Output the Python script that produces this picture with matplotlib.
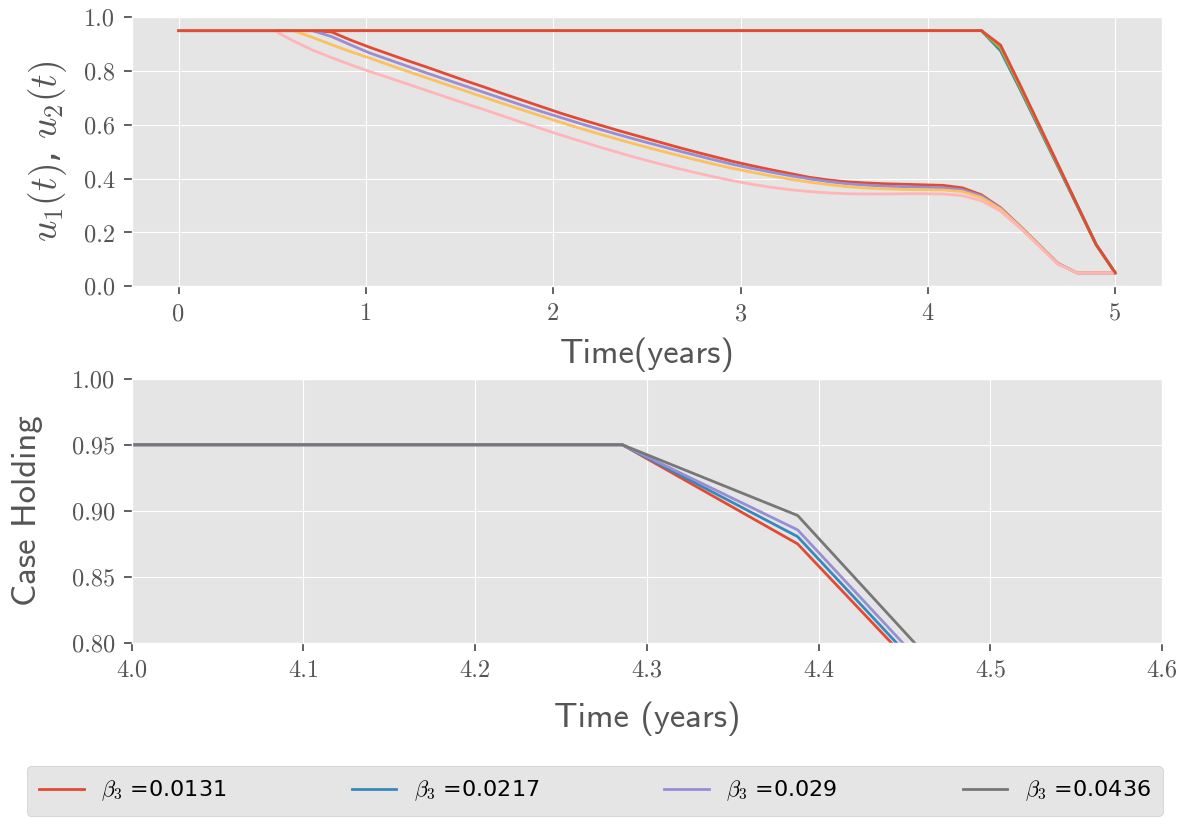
import matplotlib
matplotlib.use('Agg')
import matplotlib.pyplot as plt
import numpy as np

plt.style.use('ggplot')
plt.rcParams['mathtext.fontset'] = 'cm'

# time grid used by the solver (50 points over 5 years)
t = np.linspace(0, 5, 50)

betas = ["0.0131", "0.0217", "0.029", "0.0436"]

# u1(t) for each beta_3
u1_b1 = [0.95, 0.95, 0.95, 0.95, 0.95, 0.95, 0.95, 0.95, 0.945, 0.915,
         0.888, 0.863, 0.838, 0.814, 0.789, 0.764, 0.740, 0.715, 0.691, 0.667,
         0.643, 0.621, 0.600, 0.579, 0.559, 0.539, 0.519, 0.500, 0.482, 0.464,
         0.448, 0.433, 0.419, 0.405, 0.395, 0.388, 0.384, 0.381, 0.379, 0.377,
         0.375, 0.366, 0.340, 0.292, 0.225, 0.155, 0.085, 0.05, 0.05, 0.05]
u1_b2 = [0.95, 0.95, 0.95, 0.95, 0.95, 0.95, 0.95, 0.95, 0.928, 0.897,
         0.867, 0.842, 0.817, 0.792, 0.768, 0.744, 0.720, 0.696, 0.672, 0.649,
         0.627, 0.605, 0.584, 0.564, 0.544, 0.525, 0.506, 0.488, 0.470, 0.453,
         0.438, 0.424, 0.411, 0.399, 0.389, 0.381, 0.376, 0.372, 0.370, 0.368,
         0.366, 0.359, 0.336, 0.290, 0.224, 0.155, 0.085, 0.05, 0.05, 0.05]
u1_b3 = [0.95, 0.95, 0.95, 0.95, 0.95, 0.95, 0.95, 0.925, 0.898, 0.872,
         0.848, 0.823, 0.798, 0.774, 0.750, 0.726, 0.702, 0.678, 0.655, 0.632,
         0.609, 0.587, 0.566, 0.546, 0.526, 0.507, 0.489, 0.471, 0.454, 0.438,
         0.424, 0.410, 0.398, 0.387, 0.378, 0.370, 0.365, 0.362, 0.360, 0.359,
         0.358, 0.352, 0.330, 0.287, 0.222, 0.154, 0.084, 0.05, 0.05, 0.05]
u1_b4 = [0.95, 0.95, 0.95, 0.95, 0.95, 0.95, 0.912, 0.878, 0.850, 0.823,
         0.798, 0.775, 0.751, 0.727, 0.703, 0.679, 0.656, 0.632, 0.608, 0.585,
         0.562, 0.540, 0.518, 0.497, 0.477, 0.458, 0.440, 0.423, 0.407, 0.392,
         0.379, 0.368, 0.359, 0.352, 0.347, 0.344, 0.343, 0.343, 0.344, 0.344,
         0.343, 0.337, 0.318, 0.279, 0.218, 0.150, 0.082, 0.05, 0.05, 0.05]

# u2(t) (case holding) for each beta_3
u2_b1 = [0.95] * 43 + [0.875, 0.735, 0.590, 0.445, 0.300, 0.155, 0.05]
u2_b2 = [0.95] * 43 + [0.8805, 0.738, 0.593, 0.448, 0.302, 0.155, 0.05]
u2_b3 = [0.95] * 43 + [0.8856, 0.743, 0.597, 0.450, 0.303, 0.155, 0.05]
u2_b4 = [0.95] * 43 + [0.8965, 0.752, 0.603, 0.454, 0.304, 0.155, 0.05]

u1_all = [u1_b1, u1_b2, u1_b3, u1_b4]
u2_all = [u2_b1, u2_b2, u2_b3, u2_b4]

fig = plt.figure(figsize=(11.87, 8.18), dpi=100)
ax1 = fig.add_axes([0.111, 0.650, 0.868, 0.329])
ax2 = fig.add_axes([0.111, 0.214, 0.868, 0.323])

# top: both controls over the whole horizon
for u1, u2 in zip(u1_all, u2_all):
    ax1.plot(t, u1, lw=2)
    ax1.plot(t, u2, lw=2)
ax1.set_ylim(0, 1.0)
ax1.set_xlabel('Time(years)', family='cmss10', fontsize=25, color='#555555', labelpad=9)
ax1.set_ylabel(r'$u_1(t)$, $u_2(t)$', fontsize=27, color='#555555', labelpad=11)
ax1.yaxis.set_major_formatter(matplotlib.ticker.FormatStrFormatter('%.1f'))

# bottom: zoom on case holding around the switch
lines = []
for u2, b in zip(u2_all, betas):
    ln, = ax2.plot(t, u2, lw=2, label=r'$\beta_3$ =' + b)
    lines.append(ln)
ax2.set_xlim(4.0, 4.6)
ax2.set_ylim(0.8, 1.0)
ax2.set_yticks([0.80, 0.85, 0.90, 0.95, 1.00])
ax2.yaxis.set_major_formatter(matplotlib.ticker.FormatStrFormatter('%.2f'))
ax2.xaxis.set_major_formatter(matplotlib.ticker.FormatStrFormatter('%.1f'))
ax2.set_xlabel('Time (years)', family='cmss10', fontsize=25, color='#555555', labelpad=14)
ax2.set_ylabel('Case Holding', family='cmss10', fontsize=25, color='#555555', labelpad=21)

for ax in (ax1, ax2):
    ax.tick_params(labelsize=17.5, labelfontfamily='cmr10', labelcolor='#555555',
                   length=6, width=1.3, color='#555555', pad=6)

fig.legend(handles=lines, loc='lower left', bbox_to_anchor=(0.0227, 0.003, 0.957, 0.05),
           ncol=4, mode='expand', borderaxespad=0, borderpad=0.55, fontsize=16,
           facecolor='#E5E5E5', edgecolor='#CCCCCC', framealpha=1.0)

plt.savefig('out.png', dpi=100)
